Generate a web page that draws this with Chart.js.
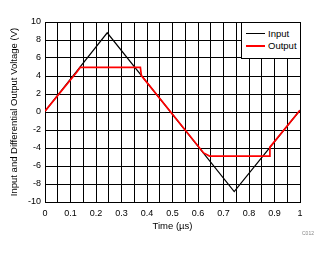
<!DOCTYPE html>
<html>
<head>
<meta charset="utf-8">
<script src="https://cdn.jsdelivr.net/npm/chart.js@4"></script>
<style>
    body { margin: 0; background: #fff; }
    .wrap { position: relative; width: 329px; height: 254px; }
    .legend {
        position: absolute; left: 241px; top: 22px; width: 60px; height: 37px;
        box-sizing: border-box; border: 1px solid #000; background: #fff;
        font: 9.5px "Liberation Sans", Arial, sans-serif; color: #000;
    }
    .legend div { position: absolute; left: 26px; }
    .legend span { position: absolute; left: -22px; top: 5px; width: 19px; height: 0; }
    .code {
        position: absolute; left: 302px; top: 230px;
        font: 5px "Liberation Sans", Arial, sans-serif; color: #888;
    }
</style>
</head>
<body>
<div class="wrap">
    <canvas id="myChart" width="329" height="254"></canvas>
    <div class="legend">
        <div style="top:5px"><span style="border-top:1.5px solid #000"></span>Input</div>
        <div style="top:17px"><span style="border-top:2px solid #f00"></span>Output</div>
    </div>
    <div class="code">C012</div>
</div>
<script>
const inputTime = [0, 0.244, 0.742, 1];
const inputVolts = [0.1, 8.8, -8.85, 0.2];

const outputTime = [0, 0.125, 0.138, 0.374, 0.378, 0.622, 0.645, 0.879, 0.882, 1];
const outputVolts = [0.1, 4.45, 4.95, 4.95, 4.05, -4.55, -4.9, -4.9, -3.9, 0.2];

const yTicks = [10, 8, 6, 4, 2, 0, -2, -4, -6, -8, -10];

const toPoints = (xs, ys) => xs.map((x, i) => ({ x: x, y: ys[i] }));
const font = { family: '"Liberation Sans", Arial, sans-serif', size: 9 };

const ctx = document.getElementById('myChart');
new Chart(ctx, {
    type: 'scatter',
    data: {
        datasets: [{
            label: 'Output',
            data: toPoints(outputTime, outputVolts),
            showLine: true,
            borderColor: '#ff0000',
            borderWidth: 1.7,
            pointRadius: 0,
            order: 0
        }, {
            label: 'Input',
            data: toPoints(inputTime, inputVolts),
            showLine: true,
            borderColor: '#000000',
            borderWidth: 1.2,
            pointRadius: 0,
            order: 1
        }]
    },
    options: {
        responsive: false,
        animation: false,
        layout: { padding: { top: 22, right: 29, left: 0, bottom: 0 } },
        plugins: { legend: { display: false }, tooltip: { enabled: false } },
        scales: {
            x: {
                type: 'linear',
                min: 0,
                max: 1,
                afterFit: (scale) => { scale.height = 52; },
                grid: { color: '#000', lineWidth: 1, drawTicks: false },
                border: { color: '#000', width: 1 },
                ticks: {
                    stepSize: 0.05,
                    padding: 6,
                    maxRotation: 0,
                    autoSkip: false,
                    color: '#000',
                    font: font,
                    callback: (v) => Math.round(v * 20) % 2 === 0 ? String(Math.round(v * 10) / 10) : ''
                },
                title: {
                    display: true,
                    text: 'Time (µs)',
                    color: '#000',
                    font: { family: font.family, size: 9.5 },
                    padding: { top: 0, bottom: 22 }
                }
            },
            y: {
                min: -10,
                max: 10,
                afterFit: (scale) => { scale.width = 45; },
                afterBuildTicks: (scale) => { scale.ticks = yTicks.map(v => ({ value: v })); },
                grid: { color: '#000', lineWidth: 1, drawTicks: false },
                border: { color: '#000', width: 1 },
                ticks: {
                    padding: 4,
                    color: '#000',
                    font: font,
                    callback: (v) => String(v)
                },
                title: {
                    display: true,
                    text: 'Input and Differential Output Voltage (V)',
                    color: '#000',
                    font: { family: font.family, size: 9.5 },
                    padding: { top: 8.5, bottom: 0 }
                }
            }
        }
    }
});
</script>
</body>
</html>
